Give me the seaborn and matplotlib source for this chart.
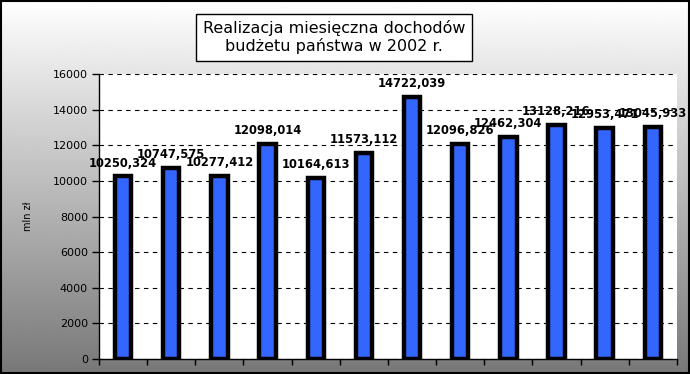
import numpy as np
import pandas as pd
import seaborn as sns
import matplotlib.pyplot as plt
from matplotlib.patches import Rectangle

# Data
months = ['I', 'II', 'III', 'IV', 'V', 'VI', 'VII', 'VIII', 'IX', 'X', 'XI', 'XII']
values = [10250.324, 10747.575, 10277.412, 12098.014, 10164.613, 11573.112,
          14722.039, 12096.826, 12462.304, 13128.216, 12953.471, 13045.933]
y_ticks = [0, 2000, 4000, 6000, 8000, 10000, 12000, 14000, 16000]

df = pd.DataFrame({'month': months, 'value': values})

sns.set_style('white')
plt.rcParams['font.family'] = ['DejaVu Sans']
plt.rcParams.update({'text.color': 'black', 'axes.labelcolor': 'black',
                     'xtick.color': 'black', 'ytick.color': 'black'})

fig = plt.figure(figsize=(6.9, 3.74), dpi=100)

# gradient background over the whole figure, with a black frame
bg = fig.add_axes([0, 0, 1, 1], zorder=-1)
grad = np.linspace(1.0, 0.47, 256).reshape(-1, 1)
bg.imshow(grad, aspect='auto', cmap='gray', vmin=0, vmax=1, extent=[0, 1, 0, 1])
bg.add_patch(Rectangle((0.001, 0.002), 0.997, 0.995, fill=False, edgecolor='black',
                       linewidth=1.5, transform=bg.transAxes))
bg.set_xlim(0, 1)
bg.set_ylim(0, 1)
bg.axis('off')

ax = fig.add_axes([0.1435, 0.040, 0.8375, 0.762])
sns.barplot(data=df, x='month', y='value', color='#3366FF', saturation=1,
            edgecolor='black', linewidth=3.2, width=0.34, ax=ax)
ax.set_facecolor('white')

ax.set_ylim(0, 16000)
ax.set_yticks(y_ticks)
ax.set_yticklabels([str(t) for t in y_ticks], fontsize=8)
ax.set_xlim(-0.5, len(months) - 0.5)
ax.set_xticks([])
ax.set_xticks(np.arange(-0.5, len(months)), minor=True)
ax.tick_params(axis='x', which='minor', length=4, width=1, color='black', direction='out', bottom=True)
ax.tick_params(axis='y', length=5, width=1, color='black', direction='out', left=True, pad=3)
ax.set_xlabel('')
ax.set_ylabel('mln zł', fontsize=7, labelpad=14)

ax.yaxis.grid(True, linestyle=(0, (4, 4)), color='black', linewidth=0.8)
ax.set_axisbelow(True)
for s in ['top', 'right']:
    ax.spines[s].set_visible(False)
for s in ['left', 'bottom']:
    ax.spines[s].set_color('black')
    ax.spines[s].set_linewidth(1)

labels = [f'{v:.3f}'.replace('.', ',') for v in values]
ax.bar_label(ax.containers[0], labels=labels, fontsize=8.3, fontweight='bold', padding=5)

fig.text(0.484, 0.90, 'Realizacja miesięczna dochodów\nbudżetu państwa w 2002 r.',
         ha='center', va='center', fontsize=11.5, linespacing=1.15,
         bbox=dict(boxstyle='square,pad=0.4', facecolor='white', edgecolor='black', linewidth=1))

fig.savefig('out.png', dpi=100)
